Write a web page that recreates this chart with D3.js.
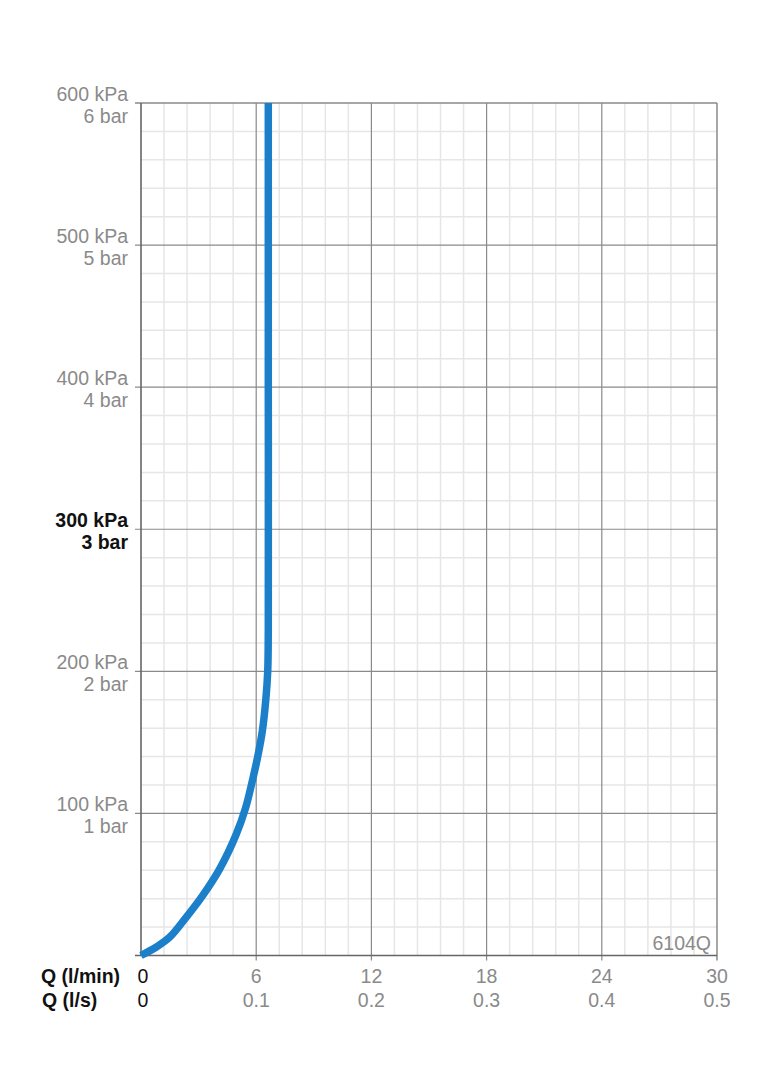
<!DOCTYPE html>
<html><head><meta charset="utf-8">
<script src="https://cdn.jsdelivr.net/npm/d3@7"></script>
<style>
html,body{margin:0;padding:0;background:#fff;}
svg{display:block;font-family:"Liberation Sans",Arial,Helvetica,sans-serif;}
</style></head>
<body>
<script>
// Data
const flowLmin = [0, 0.8, 1.5, 2.3, 3.2, 4.1, 4.95, 5.45, 5.8, 6.08, 6.32, 6.5, 6.6, 6.63, 6.63, 6.63];
const pressureKPa = [0, 6, 13, 26, 42, 61, 85, 104, 123, 140, 158, 180, 200, 230, 400, 600];
const yTicksKPa = [100, 200, 300, 400, 500, 600];
const yLabelsKPa = ["100 kPa","200 kPa","300 kPa","400 kPa","500 kPa","600 kPa"];
const yLabelsBar = ["1 bar","2 bar","3 bar","4 bar","5 bar","6 bar"];
const xTicksLmin = [0, 6, 12, 18, 24, 30];
const xLabelsLs = ["0","0.1","0.2","0.3","0.4","0.5"];
const modelName = "6104Q";

const W = 764, H = 1080;
const L = 141, R = 717, T = 103, B = 955.5;
const svg = d3.select("body").append("svg").attr("width", W).attr("height", H);
const x = d3.scaleLinear().domain([0, 30]).range([L, R]);
const y = d3.scaleLinear().domain([0, 600]).range([B, T]);

// minor grid
const g = svg.append("g");
const minorX = d3.range(1, 25).map(i => i * 1.2).filter(v => v % 6 > 0.01 && v % 6 < 5.99);
const minorY = d3.range(1, 30).map(i => i * 20).filter(v => v % 100 !== 0);
g.selectAll(".mx").data(minorX).enter().append("line")
  .attr("x1", d => x(d)).attr("x2", d => x(d)).attr("y1", T).attr("y2", B)
  .attr("stroke", "#e6e6e6").attr("stroke-width", 1.5);
g.selectAll(".my").data(minorY).enter().append("line")
  .attr("x1", L).attr("x2", R).attr("y1", d => y(d)).attr("y2", d => y(d))
  .attr("stroke", "#e6e6e6").attr("stroke-width", 1.5);
// major grid
g.selectAll(".Mx").data([6, 12, 18, 24]).enter().append("line")
  .attr("x1", d => x(d)).attr("x2", d => x(d)).attr("y1", T).attr("y2", B + 5)
  .attr("stroke", "#8a8a8a").attr("stroke-width", 1.2);
g.selectAll(".My").data([100, 200, 300, 400, 500]).enter().append("line")
  .attr("x1", L - 6).attr("x2", R).attr("y1", d => y(d)).attr("y2", d => y(d))
  .attr("stroke", "#8a8a8a").attr("stroke-width", 1.2);
// border
g.append("line").attr("x1", L - 6).attr("x2", R).attr("y1", T).attr("y2", T).attr("stroke", "#8a8a8a").attr("stroke-width", 1.5);
g.append("line").attr("x1", R).attr("x2", R).attr("y1", T).attr("y2", B + 5).attr("stroke", "#8a8a8a").attr("stroke-width", 1.5);
// axes
g.append("line").attr("x1", L).attr("x2", L).attr("y1", T).attr("y2", B).attr("stroke", "#666").attr("stroke-width", 1.6);
g.append("line").attr("x1", L - 6).attr("x2", R).attr("y1", B).attr("y2", B).attr("stroke", "#666").attr("stroke-width", 1.6);

// curve
const pts = flowLmin.map((q, i) => [q, pressureKPa[i]]);
svg.append("path").datum(pts)
  .attr("d", d3.line().x(d => x(d[0])).y(d => y(d[1])).curve(d3.curveCatmullRom.alpha(0.5)))
  .attr("fill", "none").attr("stroke", "#1c7fca").attr("stroke-width", 7.5).attr("stroke-linecap", "butt");

// y labels
yTicksKPa.forEach((v, i) => {
  const bold = v === 300;
  const t = svg.append("text").attr("text-anchor", "end").attr("font-size", 19.5)
    .attr("fill", bold ? "#111" : "#8a8a8a").attr("font-weight", bold ? "bold" : "normal");
  t.append("tspan").attr("x", 128).attr("y", y(v) - 2).text(yLabelsKPa[i]);
  t.append("tspan").attr("x", 128).attr("y", y(v) + 20).text(yLabelsBar[i]);
});

// x labels
xTicksLmin.forEach((v, i) => {
  const zero = v === 0;
  const cx = zero ? x(v) + 2 : x(v);
  svg.append("text").attr("x", cx).attr("y", 983).attr("text-anchor", "middle")
    .attr("font-size", 19.5).attr("fill", zero ? "#111" : "#8a8a8a").text(v);
  svg.append("text").attr("x", cx).attr("y", 1007).attr("text-anchor", "middle")
    .attr("font-size", 19.5).attr("fill", zero ? "#111" : "#8a8a8a").text(xLabelsLs[i]);
});
svg.append("text").attr("x", 41).attr("y", 983).attr("font-size", 19.5).attr("font-weight", "bold").attr("fill", "#111").text("Q (l/min)");
svg.append("text").attr("x", 42).attr("y", 1007).attr("font-size", 19.5).attr("font-weight", "bold").attr("fill", "#111").text("Q (l/s)");

svg.append("text").attr("x", 711).attr("y", 949.5).attr("text-anchor", "end").attr("font-size", 19.5).attr("fill", "#8a8a8a").text(modelName);
</script>
</body></html>
